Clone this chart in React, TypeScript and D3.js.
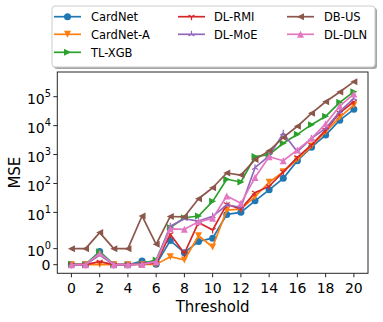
import React from 'react';
import * as d3 from 'd3';

const thresholds = [0, 1, 2, 3, 4, 5, 6, 7, 8, 9, 10, 11, 12, 13, 14, 15, 16, 17, 18, 19, 20];
const xTicks = [0, 2, 4, 6, 8, 10, 12, 14, 16, 18, 20];
const yTickValues = [0, 1, 10, 100, 1000, 10000, 100000];
const yTickExponents = ['', '0', '1', '2', '3', '4', '5'];

const seriesNames = ['CardNet', 'CardNet-A', 'TL-XGB', 'DL-RMI', 'DL-MoE', 'DB-US', 'DL-DLN'];
const seriesColors = ['#1f77b4', '#ff7f0e', '#2ca02c', '#d62728', '#9467bd', '#8c564b', '#e377c2'];
const seriesMarkers = ['circle', 'tdown', 'tright', 'tri_down', 'tri_up', 'tleft', 'tup'];

const cardNet = [0, 0, 0.82, 0, 0, 0.23, 0.03, 1.5, 0.75, 1.45, 1.65, 8.5, 10, 25, 60, 150, 610, 1800, 4700, 15500, 36600];
const cardNetA = [0, 0, 0.02, 0, 0, 0.02, 0.02, 0.5, 0.29, 1.8, 1.1, 12, 13, 35, 110, 252, 680, 1960, 6200, 19300, 51900];
const tlXgb = [0.03, 0, 0.8, 0, 0, 0.05, 0.3, 3.0, 6.5, 7.5, 24, 140, 112, 850, 1000, 2460, 5000, 10800, 21000, 64000, 150000];
const dlRmi = [0, 0, 0.19, 0, 0, 0.05, 0.1, 1.9, 0.7, 4.5, 2.45, 19, 13, 48, 80, 252, 800, 2150, 7000, 27900, 66900];
const dlMoe = [0, 0, 0.6, 0, 0, 0.05, 0.2, 3.3, 6.0, 5.0, 7.3, 18, 15, 350, 900, 5400, 1250, 3630, 8050, 30300, 87300];
const dbUs = [1, 1, 2, 1, 1, 7.5, 1.27, 7.2, 7, 29.6, 71, 230, 195, 670, 1340, 3900, 9500, 26600, 66900, 145000, 332000];
const dlDln = [0, 0, 0.71, 0, 0, 0.02, 0.19, 2.7, 2.6, 4.7, 6.2, 37, 20.5, 160, 842, 611, 1450, 3630, 11500, 47600, 125000];

const seriesValues = [cardNet, cardNetA, tlXgb, dlRmi, dlMoe, dbUs, dlDln];

// matplotlib-style symlog transform (base 10, linthresh 2, linscale 1)
const LINTHRESH = 2;
const LINSCALE = 1 / (1 - 1 / 10);
function symT(v: number): number {
  const a = Math.abs(v);
  if (a <= LINTHRESH) return v * LINSCALE;
  return Math.sign(v) * LINTHRESH * (LINSCALE + Math.log10(a / LINTHRESH));
}

const W = 383;
const H = 322;
const plot = { left: 57.3, right: 368, top: 72, bottom: 273.3 };

const x = d3.scaleLinear().domain([-1, 21]).range([plot.left, plot.right]);
const yT = d3.scaleLinear().domain([-0.595, 13.33]).range([plot.bottom, plot.top]);
const y = (v: number) => yT(symT(v));

const FONT = 'DejaVu Sans, Liberation Sans, sans-serif';

function Marker({ type, cx, cy, color, s }: { type: string; cx: number; cy: number; color: string; s: number }) {
  const h = s / 2;
  if (type === 'circle') return <circle cx={cx} cy={cy} r={h} fill={color} />;
  const tri = (pts: number[][]) => (
    <polygon points={pts.map((p) => `${cx + p[0]},${cy + p[1]}`).join(' ')} fill={color} />
  );
  if (type === 'tup') return tri([[0, -h], [-h, h], [h, h]]);
  if (type === 'tdown') return tri([[0, h], [-h, -h], [h, -h]]);
  if (type === 'tleft') return tri([[-h, 0], [h, -h], [h, h]]);
  if (type === 'tright') return tri([[h, 0], [-h, -h], [-h, h]]);
  const arms =
    type === 'tri_down'
      ? [[0, h], [-0.866 * h, -0.5 * h], [0.866 * h, -0.5 * h]]
      : [[0, -h], [-0.866 * h, 0.5 * h], [0.866 * h, 0.5 * h]];
  return (
    <g stroke={color} strokeWidth={1.2}>
      {arms.map((a, i) => (
        <line key={i} x1={cx} y1={cy} x2={cx + a[0]} y2={cy + a[1]} />
      ))}
    </g>
  );
}

export default function App() {
  const line = d3
    .line<number>()
    .x((_, i) => x(thresholds[i]))
    .y((d) => y(d));

  const legendCols = [
    { hx: 54, tx: 91 },
    { hx: 178, tx: 214 },
    { hx: 287, tx: 324 },
  ];
  const legendRows = [16.7, 34.3, 52.3];
  const legendPos = [
    [0, 0], [0, 1], [0, 2], [1, 0], [1, 1], [2, 0], [2, 1],
  ];

  return (
    <svg
      width={W}
      height={H}
      style={{ position: 'absolute', left: 0, top: 0, background: '#fff' }}
      fontFamily={FONT}
    >
      <rect x={0} y={0} width={W} height={H} fill="#fff" />
      {/* series */}
      <g>
        {seriesValues.map((vals, si) => (
          <g key={si}>
            <path d={line(vals) || ''} fill="none" stroke={seriesColors[si]} strokeWidth={1.7} strokeLinejoin="round" />
            {vals.map((v, i) => (
              <Marker key={i} type={seriesMarkers[si]} cx={x(thresholds[i])} cy={y(v)} color={seriesColors[si]} s={7} />
            ))}
          </g>
        ))}
      </g>
      {/* frame */}
      <rect
        x={plot.left}
        y={plot.top}
        width={plot.right - plot.left}
        height={plot.bottom - plot.top}
        fill="none"
        stroke="#262626"
        strokeWidth={1}
      />
      {/* x axis */}
      <g>
        {xTicks.map((t) => (
          <g key={t}>
            <line x1={x(t)} x2={x(t)} y1={plot.bottom} y2={plot.bottom + 4} stroke="#262626" strokeWidth={1} />
            <text x={x(t)} y={292.7} textAnchor="middle" fontSize={14} fill="#000">
              {t}
            </text>
          </g>
        ))}
        <text x={(plot.left + plot.right) / 2} y={311.7} textAnchor="middle" fontSize={15} fill="#000">
          Threshold
        </text>
      </g>
      {/* y axis */}
      <g>
        {yTickValues.map((t, i) => (
          <g key={t}>
            <line x1={plot.left - 4} x2={plot.left} y1={y(t)} y2={y(t)} stroke="#262626" strokeWidth={1} />
            {yTickExponents[i] === '' ? (
              <text x={50.5} y={y(t) + 5.3} textAnchor="end" fontSize={14} fill="#000">
                {t}
              </text>
            ) : (
              <text x={51} y={y(t) + 7.3} textAnchor="end" fontSize={14} fill="#000">
                <tspan>10</tspan>
                <tspan dy={-7} fontSize={9.8}>
                  {yTickExponents[i]}
                </tspan>
              </text>
            )}
          </g>
        ))}
        <text
          transform={`translate(20,${(plot.top + plot.bottom) / 2}) rotate(-90)`}
          textAnchor="middle"
          fontSize={15}
          fill="#000"
        >
          MSE
        </text>
      </g>
      {/* legend */}
      <g>
        <rect x={54} y={8} width={323} height={61} rx={3} fill="#000" opacity={0.35} />
        <rect x={52} y={6} width={323} height={61} rx={3} fill="#fff" stroke="#cccccc" strokeWidth={1} />
        {seriesNames.map((name, si) => {
          const [c, r] = legendPos[si];
          const col = legendCols[c];
          const ly = legendRows[r];
          return (
            <g key={name}>
              <line x1={col.hx} x2={col.hx + 27} y1={ly} y2={ly} stroke={seriesColors[si]} strokeWidth={1.7} />
              <Marker type={seriesMarkers[si]} cx={col.hx + 13.5} cy={ly} color={seriesColors[si]} s={7} />
              <text x={col.tx} y={ly + 4.2} fontSize={11.5} fill="#000">
                {name}
              </text>
            </g>
          );
        })}
      </g>
    </svg>
  );
}
